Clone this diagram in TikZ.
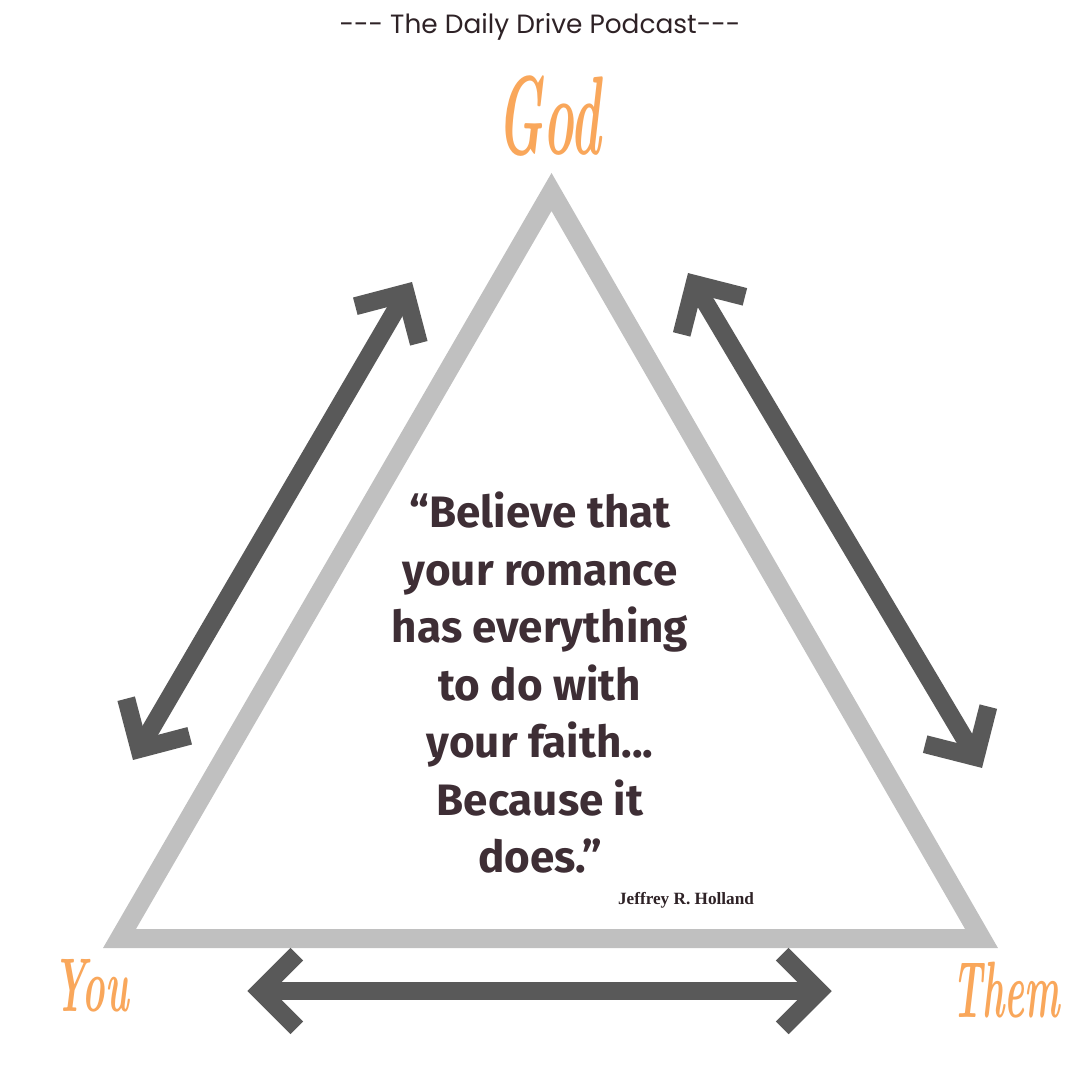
\documentclass[tikz,border=0pt]{standalone}
\usepackage{fontspec}
\usetikzlibrary{calc}
\newfontfamily\titlefont{Poppins}
\newfontfamily\quotefont{Fira Sans}
\newfontfamily\authorfont{Liberation Serif}
\definecolor{tri}{HTML}{C0C0C0}
\definecolor{arr}{HTML}{595959}
\definecolor{org}{HTML}{F9A75B}
\definecolor{ink}{HTML}{2E2226}
\definecolor{qink}{HTML}{3E2E35}
\tikzset{
  arrline/.style={draw=arr, line width=9pt, line join=miter, line cap=butt},
  triline/.style={draw=tri, line width=9.5pt, line join=miter},
  label/.style={text=org, inner sep=0pt},
}
\begin{document}
\begin{tikzpicture}[x=0.5pt, y=-0.5pt]
\useasboundingbox[fill=white] (0,0) rectangle (1080,1080);
% triangle
\coordinate (T) at (551.5,192);
\coordinate (TL) at (119.5,938.5);
\coordinate (TR) at (981.5,938.5);
\draw[triline] (T) -- (TL) -- (TR) -- cycle;
% arrows
\coordinate (L1) at (139.4,749);
\coordinate (L2) at (405.6,293);
\coordinate (R1) at (694.5,284);
\coordinate (R2) at (975.5,757);
\coordinate (B1) at (260,991);
\coordinate (B2) at (819,991);
\draw[arrline] (L1) -- (L2);
\draw[arrline] ($(L2)!26pt!45:(L1)$) -- (L2) -- ($(L2)!26pt!-45:(L1)$);
\draw[arrline] ($(L1)!26pt!45:(L2)$) -- (L1) -- ($(L1)!26pt!-45:(L2)$);
\draw[arrline] (R1) -- (R2);
\draw[arrline] ($(R1)!26pt!45:(R2)$) -- (R1) -- ($(R1)!26pt!-45:(R2)$);
\draw[arrline] ($(R2)!26pt!45:(R1)$) -- (R2) -- ($(R2)!26pt!-45:(R1)$);
\draw[arrline] (B1) -- (B2);
\draw[arrline] ($(B1)!26pt!45:(B2)$) -- (B1) -- ($(B1)!26pt!-45:(B2)$);
\draw[arrline] ($(B2)!26pt!45:(B1)$) -- (B2) -- ($(B2)!26pt!-45:(B1)$);
% texts
\node[text=ink, font=\titlefont\fontsize{13.2}{15}\selectfont] (title) at (540,27) {-\kern0pt-\kern0pt- The Daily Drive Podcast-\kern0pt-\kern0pt-};
\node[label, font=\fontsize{56}{60}\selectfont\bfseries\itshape, xscale=0.46] (god) at (549,116) {God};
\node[label, font=\fontsize{38}{42}\selectfont\bfseries\itshape, xscale=0.5] (you) at (91,986) {You};
\node[label, font=\fontsize{40}{44}\selectfont\bfseries\itshape, xscale=0.47] (them) at (1006,990) {Them};
\node[text=qink, font=\quotefont\bfseries\fontsize{22}{28.75}\selectfont, align=center] (quote) at (540,683)
  {“Believe that\\your romance\\has everything\\to do with\\your faith...\\Because it\\does.”};
\node[text=ink, font=\authorfont\bfseries\fontsize{8.6}{10}\selectfont] (author) at (686,900) {Jeffrey R. Holland};
\end{tikzpicture}
\end{document}
